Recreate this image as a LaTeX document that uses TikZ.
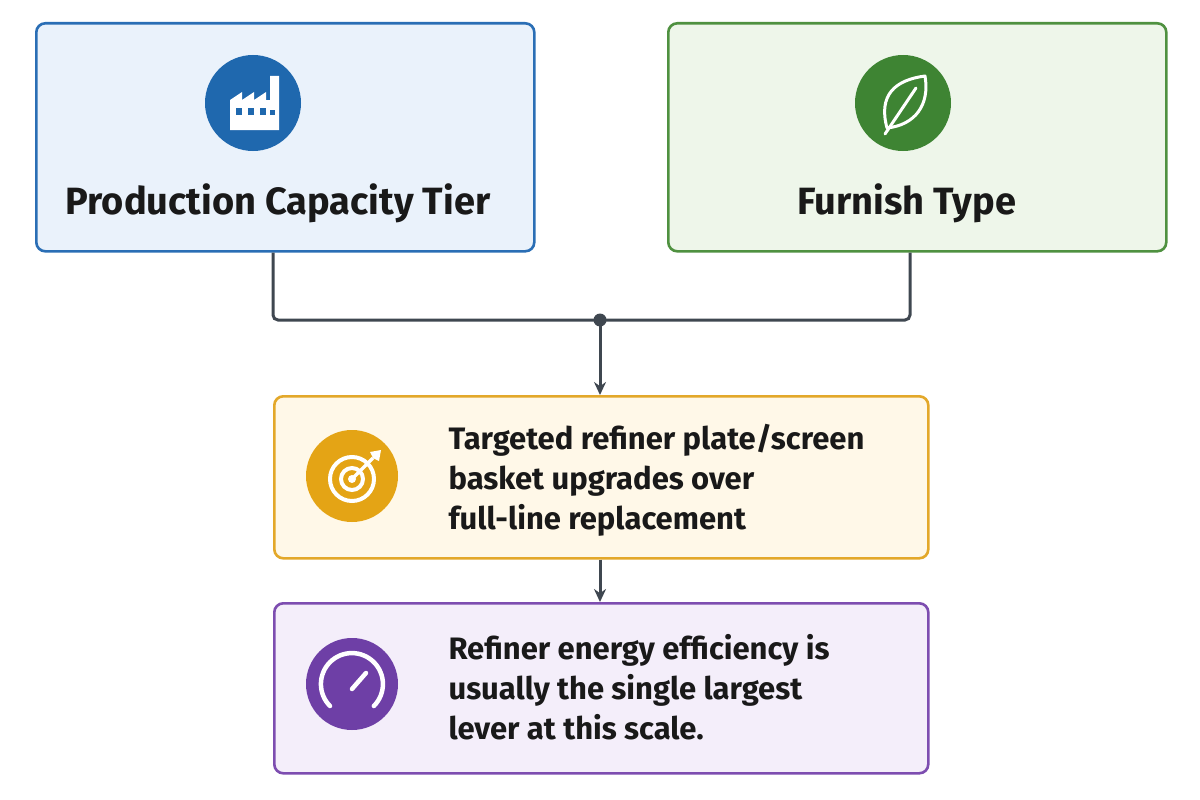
\documentclass[tikz,border=0pt]{standalone}
\usepackage{fontspec}
\setmainfont{Fira Sans}
\usetikzlibrary{positioning, arrows.meta}
\definecolor{blueline}{HTML}{2A6EB5}
\definecolor{bluefill}{HTML}{EAF2FB}
\definecolor{blueicon}{HTML}{1F68AE}
\definecolor{greenline}{HTML}{4F9140}
\definecolor{greenfill}{HTML}{EEF6EA}
\definecolor{greenicon}{HTML}{3E8433}
\definecolor{goldline}{HTML}{E3A82A}
\definecolor{goldfill}{HTML}{FFF8E8}
\definecolor{goldicon}{HTML}{E4A415}
\definecolor{purpline}{HTML}{7D4DB0}
\definecolor{purpfill}{HTML}{F4EEFA}
\definecolor{purpicon}{HTML}{6E3FA6}
\definecolor{wire}{HTML}{3F4750}
\tikzset{
  card/.style={draw, line width=2.6pt, rounded corners=9pt, anchor=north west},
  ttl/.style={font=\fontsize{38}{44}\selectfont\bfseries, text=black!90},
  txt/.style={font=\fontsize{31}{40}\selectfont\bfseries, text=black!90, align=left, anchor=west},
  wirepath/.style={draw=wire, line width=3pt},
  >={Stealth[length=13pt, width=12pt]}
}
\begin{document}
\begin{tikzpicture}[x=1pt, y=-1pt]
        \useasboundingbox (0,0) rectangle (1200,800);
        % Cards
        \node [card, draw=blueline, fill=bluefill, minimum width=498pt, minimum height=228pt] (prod) at (35,22) {};
        \node [card, draw=greenline, fill=greenfill, minimum width=498pt, minimum height=228pt] (furn) at (667,22) {};
        \node [card, draw=goldline, fill=goldfill, minimum width=654pt, minimum height=162pt] (upg) at (273,395) {};
        \node [card, draw=purpline, fill=purpfill, minimum width=654pt, minimum height=170pt] (eff) at (273,602) {};
        % Titles
        \node [ttl] (prodtxt) at (278,203) {Production Capacity Tier};
        \node [ttl] (furntxt) at (907,203) {Furnish Type};
        \node [txt] (upgtxt) at (445,480) {Targeted refiner plate/screen\\basket upgrades over\\full-line replacement};
        \node [txt] (efftxt) at (445,687) {Refiner energy efficiency is\\usually the single largest\\lever at this scale.};
        % Icons
        \node [circle, fill=blueicon, minimum size=96pt] (prodicon) at (253,103) {};
        \fill [white] (230,130) -- (230,100) -- (242,92) -- (242,100) -- (254,92) -- (254,100) -- (266,92) -- (266,100)
            -- (270,100) -- (270,76) -- (279,76) -- (279,130) -- cycle;
        \foreach \xx in {236,248,260} \fill [blueicon] (\xx,108) rectangle ++(6,7);
        \fill [blueicon] (270,110) rectangle ++(5,5);
        \node [circle, fill=greenicon, minimum size=96pt] (furnicon) at (903,103) {};
        \draw [white, line width=3pt, line join=round] (887,128) .. controls (878,95) and (895,80) .. (925,76)
            .. controls (930,105) and (915,125) .. (887,128) -- cycle;
        \draw [white, line width=3pt, line cap=round] (885,134) -- (916,88);
        \node [circle, fill=goldicon, minimum size=92pt] (upgicon) at (352,476) {};
        \draw [white, line width=4pt] (352,479) circle (22pt);
        \draw [white, line width=4pt] (352,479) circle (11pt);
        \fill [white] (352,479) circle (4pt);
        \draw [white, line width=3.5pt] (352,479) -- (373,458);
        \fill [white] (370,452) -- (381,450) -- (379,461) -- (373,458) -- cycle;
        \node [circle, fill=purpicon, minimum size=92pt] (efficon) at (352,684) {};
        \draw [white, line width=4.5pt, line cap=round] (330,706) arc (225:-45:31pt);
        \draw [white, line width=4.5pt, line cap=round] (352,689) -- (366,673);
        % Connectors
        \coordinate (join) at (600,320);
        \draw [wirepath, rounded corners=5pt] (prod.south -| 273,0) |- (join) -| (furn.south -| 910,0);
        \fill [wire] (join) circle (6.5pt);
        \draw [wirepath, ->] (join) -- (upg.north -| join);
        \draw [wirepath, ->] (upg.south -| join) -- (eff.north -| join);
\end{tikzpicture}
\end{document}
